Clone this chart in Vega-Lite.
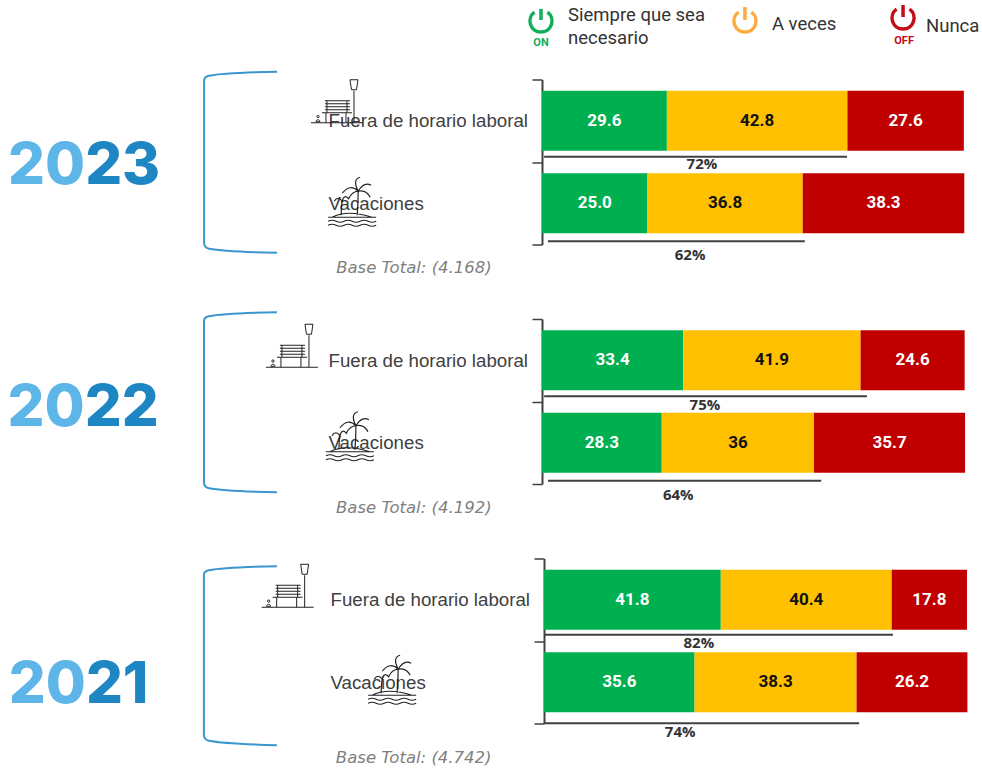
{"$schema":"https://vega.github.io/schema/vega-lite/v6.json","autosize":{"type":"none"},"padding":{"left":542,"right":0,"top":0,"bottom":769},"bounds":"flush","spacing":74.5,"config":{"view":{"stroke":null}},
"datasets":{
"years":[{"year":2023,"head":"20","tail":"23","base":"Base Total: (4.168)"},{"year":2022,"head":"20","tail":"22","base":"Base Total: (4.192)"},{"year":2021,"head":"20","tail":"21","base":"Base Total: (4.742)"}],
"bars":[
{"year":2023,"cat":"Fuera de horario laboral","series":"Siempre que sea necesario","order":1,"value":29.6,"label":"29.6"},
{"year":2023,"cat":"Fuera de horario laboral","series":"A veces","order":2,"value":42.8,"label":"42.8"},
{"year":2023,"cat":"Fuera de horario laboral","series":"Nunca","order":3,"value":27.6,"label":"27.6"},
{"year":2023,"cat":"Vacaciones","series":"Siempre que sea necesario","order":1,"value":25.0,"label":"25.0"},
{"year":2023,"cat":"Vacaciones","series":"A veces","order":2,"value":36.8,"label":"36.8"},
{"year":2023,"cat":"Vacaciones","series":"Nunca","order":3,"value":38.3,"label":"38.3"},
{"year":2022,"cat":"Fuera de horario laboral","series":"Siempre que sea necesario","order":1,"value":33.4,"label":"33.4"},
{"year":2022,"cat":"Fuera de horario laboral","series":"A veces","order":2,"value":41.9,"label":"41.9"},
{"year":2022,"cat":"Fuera de horario laboral","series":"Nunca","order":3,"value":24.6,"label":"24.6"},
{"year":2022,"cat":"Vacaciones","series":"Siempre que sea necesario","order":1,"value":28.3,"label":"28.3"},
{"year":2022,"cat":"Vacaciones","series":"A veces","order":2,"value":36,"label":"36"},
{"year":2022,"cat":"Vacaciones","series":"Nunca","order":3,"value":35.7,"label":"35.7"},
{"year":2021,"cat":"Fuera de horario laboral","series":"Siempre que sea necesario","order":1,"value":41.8,"label":"41.8"},
{"year":2021,"cat":"Fuera de horario laboral","series":"A veces","order":2,"value":40.4,"label":"40.4"},
{"year":2021,"cat":"Fuera de horario laboral","series":"Nunca","order":3,"value":17.8,"label":"17.8"},
{"year":2021,"cat":"Vacaciones","series":"Siempre que sea necesario","order":1,"value":35.6,"label":"35.6"},
{"year":2021,"cat":"Vacaciones","series":"A veces","order":2,"value":38.3,"label":"38.3"},
{"year":2021,"cat":"Vacaciones","series":"Nunca","order":3,"value":26.2,"label":"26.2"}],
"totals":[
{"year":2023,"cat":"Fuera de horario laboral","total":"72%","start":0.5,"end":72.3,"labelAt":37.9},
{"year":2023,"cat":"Vacaciones","total":"62%","start":1.4,"end":62.3,"labelAt":35.1},
{"year":2022,"cat":"Fuera de horario laboral","total":"75%","start":0.5,"end":76.8,"labelAt":38.5},
{"year":2022,"cat":"Vacaciones","total":"64%","start":1.4,"end":66,"labelAt":32.2},
{"year":2021,"cat":"Fuera de horario laboral","total":"82%","start":0,"end":82.5,"labelAt":36.6},
{"year":2021,"cat":"Vacaciones","total":"74%","start":0,"end":74.5,"labelAt":32.2}],
"legend":[{"series":"Siempre que sea necesario","text":"Siempre que sea\nnecesario"},{"series":"A veces","text":"A veces"},{"series":"Nunca","text":"Nunca"}]
},
"vconcat":[
{"width":440,"height":4.5,"data":{"name":"legend"},"layer":[
{"mark":{"type":"point","filled":false,"opacity":1,"size":4,"stroke":"#12AE5B","strokeWidth":3.5,"shape":"M-6.5 -8.8 A11 11 0 1 0 6.5 -8.8 M0 -12 V-1","yOffset":18.75},"transform":[{"filter":"datum.series==='Siempre que sea necesario'"}],"encoding":{"x":{"datum":-0.24,"type":"quantitative","scale":{"domain":[0,104.5],"nice":false,"zero":false},"axis":null}}},
{"mark":{"type":"point","filled":false,"opacity":1,"size":4,"stroke":"#FFAB40","strokeWidth":3.5,"shape":"M-6.5 -8.8 A11 11 0 1 0 6.5 -8.8 M0 -14 V-1","yOffset":18.75},"transform":[{"filter":"datum.series==='A veces'"}],"encoding":{"x":{"datum":48.2,"type":"quantitative","axis":null}}},
{"mark":{"type":"point","filled":false,"opacity":1,"size":4,"stroke":"#C00D18","strokeWidth":3.5,"shape":"M-6.5 -8.8 A11 11 0 1 0 6.5 -8.8 M0 -13 V-1","yOffset":15.75},"transform":[{"filter":"datum.series==='Nunca'"}],"encoding":{"x":{"datum":85.75,"type":"quantitative","axis":null}}},
{"mark":{"type":"text","text":"ON","font":"Roboto","fontWeight":700,"fontSize":11,"color":"#12AE5B","dy":40.75},"transform":[{"filter":"datum.series==='Siempre que sea necesario'"}],"encoding":{"x":{"datum":-0.24,"type":"quantitative","axis":null}}},
{"mark":{"type":"text","text":"OFF","font":"Roboto","fontWeight":700,"fontSize":11,"color":"#C00D18","dy":38.75},"transform":[{"filter":"datum.series==='Nunca'"}],"encoding":{"x":{"datum":86,"type":"quantitative","axis":null}}},
{"mark":{"type":"text","align":"left","baseline":"middle","font":"Roboto","fontSize":18.5,"color":"#333333","lineBreak":"\n","lineHeight":23,"dy":12.25},"transform":[{"filter":"datum.series==='Siempre que sea necesario'"}],"encoding":{"x":{"datum":6.18,"type":"quantitative","axis":null},"text":{"field":"text"}}},
{"mark":{"type":"text","align":"left","baseline":"middle","font":"Roboto","fontSize":18.5,"color":"#333333","dy":22},"transform":[{"filter":"datum.series==='A veces'"}],"encoding":{"x":{"datum":54.6,"type":"quantitative","axis":null},"text":{"field":"text"}}},
{"mark":{"type":"text","align":"left","baseline":"middle","font":"Roboto","fontSize":18.5,"color":"#333333","dy":23.5},"transform":[{"filter":"datum.series==='Nunca'"}],"encoding":{"x":{"datum":91.2,"type":"quantitative","axis":null},"text":{"field":"text"}}}
]},
{"width":440,"height":165,"data":{"name":"years"},"transform":[{"filter":"datum.year===2023"}],"layer":[
{"data":{"name":"bars"},"transform":[{"filter":"datum.year===2023"},{"stack":"value","groupby":["cat"],"sort":[{"field":"order","order":"ascending"}],"as":["x0","x1"]},{"calculate":"(datum.x0+datum.x1)/2","as":"mid"}],"layer":[
{"mark":{"type":"bar","height":60},"encoding":{"x":{"field":"x0","type":"quantitative","scale":{"domain":[0,104.3],"nice":false,"zero":false},"axis":null},"x2":{"field":"x1"},"y":{"field":"cat","type":"nominal","scale":{"type":"band","domain":["Fuera de horario laboral","Vacaciones"],"paddingInner":0,"paddingOuter":0},"axis":{"title":null,"tickBand":"extent","domainColor":"#404040","domainWidth":2,"tickColor":"#404040","tickWidth":1.5,"tickSize":10,"labelPadding":204,"labelAlign":"left","labelFont":"Liberation Sans","labelFontSize":18.7,"labelColor":"#404040","labelLimit":300}},"fill":{"field":"series","type":"nominal","scale":{"domain":["Siempre que sea necesario","A veces","Nunca"],"range":["#00B050","#FFC000","#C00000"]},"legend":null}}},
{"mark":{"type":"text","font":"Roboto","fontWeight":700,"fontSize":17},"encoding":{"x":{"field":"mid","type":"quantitative","axis":null},"y":{"field":"cat","type":"nominal"},"text":{"field":"label"},"color":{"condition":{"test":"datum.series==='A veces'","value":"#111111"},"value":"#ffffff"}}}
]},
{"data":{"name":"totals"},"transform":[{"filter":"datum.year===2023"}],"mark":{"type":"rule","color":"#404040","strokeWidth":2,"yOffset":{"expr":"datum.cat==='Vacaciones'?38:36"}},"encoding":{"x":{"field":"start","type":"quantitative","axis":null},"x2":{"field":"end"},"y":{"field":"cat","type":"nominal"}}},
{"data":{"name":"totals"},"transform":[{"filter":"datum.year===2023"}],"mark":{"type":"text","font":"Open Sans","fontWeight":700,"fontSize":15,"color":"#333333","dy":{"expr":"datum.cat==='Vacaciones'?52:43"}},"encoding":{"x":{"field":"labelAt","type":"quantitative","axis":null},"y":{"field":"cat","type":"nominal"},"text":{"field":"total"}}},
{"mark":{"type":"point","filled":false,"opacity":1,"size":4,"stroke":"#3A96CE","strokeWidth":2,"shape":"M73 -49 Q20 -48 5 -45 Q0 -44 0 -40 V122 Q0 127 5 128 Q20 131 73 132"},"encoding":{"x":{"datum":-80.1,"type":"quantitative","axis":null},"y":{"datum":"Fuera de horario laboral","type":"nominal"}}},
{"mark":{"type":"point","filled":false,"opacity":1,"size":4,"stroke":"#222222","strokeWidth":1,"shape":"M-26 0H26 M17 0V-32 M13 -43 h8 l-1.5 10 h-5 z M-15 -10H15 M-11 -10V0 M9 -10V0 M-12 -22H13 M-12 -19H13 M-12 -16H13 M-12 -13H13 M-10 -22V-10 M10 -22V-10 M-21 -1 a2 2 0 1 1 4 0 z M-19 -5 a1.2 1.2 0 1 1 0.01 0","yOffset":2},"encoding":{"x":{"datum":-48.6,"type":"quantitative","axis":null},"y":{"datum":"Fuera de horario laboral","type":"nominal"}}},
{"mark":{"type":"point","filled":false,"opacity":1,"size":4,"stroke":"#222222","strokeWidth":1.2,"shape":"M-24 0H24 M-24 4 q4 -2 8 0 t8 0 t8 0 t8 0 t8 0 t8 0 M-24 8 q4 -2 8 0 t8 0 t8 0 t8 0 t8 0 t8 0 M5 -2 Q6 -14 6 -26 M6 -26 Q-2 -34 -10 -24 M6 -26 Q0 -38 8 -40 M6 -26 Q12 -36 19 -32 M6 -26 Q14 -28 18 -20 M6 -26 Q0 -26 -4 -18 M-11 -2 Q-11 -10 -10 -16 M-10 -16 Q-14 -22 -18 -16 M-10 -16 Q-8 -24 -3 -18 M-20 0 Q-5 -8 20 0","yOffset":14},"encoding":{"x":{"datum":-45,"type":"quantitative","axis":null},"y":{"datum":"Vacaciones","type":"nominal"}}},
{"mark":{"type":"text","align":"right","baseline":"middle","font":"Inter","fontWeight":800,"fontSize":58,"color":"#5EB6E8","dy":46},"encoding":{"x":{"datum":-108.3,"type":"quantitative","axis":null},"y":{"datum":"Fuera de horario laboral","type":"nominal"},"text":{"field":"head"}}},
{"mark":{"type":"text","align":"left","baseline":"middle","font":"Inter","fontWeight":800,"fontSize":58,"color":"#1F86C4","dy":46},"encoding":{"x":{"datum":-108.3,"type":"quantitative","axis":null},"y":{"datum":"Fuera de horario laboral","type":"nominal"},"text":{"field":"tail"}}},
{"mark":{"type":"text","align":"left","baseline":"middle","font":"DejaVu Sans","fontStyle":"italic","fontSize":16.5,"color":"#7F7F7F","dy":65},"encoding":{"x":{"datum":-48.8,"type":"quantitative","axis":null},"y":{"datum":"Vacaciones","type":"nominal"},"text":{"field":"base"}}}
]},
{"width":440,"height":165,"data":{"name":"years"},"transform":[{"filter":"datum.year===2022"}],"layer":[
{"data":{"name":"bars"},"transform":[{"filter":"datum.year===2022"},{"stack":"value","groupby":["cat"],"sort":[{"field":"order","order":"ascending"}],"as":["x0","x1"]},{"calculate":"(datum.x0+datum.x1)/2","as":"mid"}],"layer":[
{"mark":{"type":"bar","height":60},"encoding":{"x":{"field":"x0","type":"quantitative","scale":{"domain":[0,104],"nice":false,"zero":false},"axis":null},"x2":{"field":"x1"},"y":{"field":"cat","type":"nominal","scale":{"type":"band","domain":["Fuera de horario laboral","Vacaciones"],"paddingInner":0,"paddingOuter":0},"axis":{"title":null,"tickBand":"extent","domainColor":"#404040","domainWidth":2,"tickColor":"#404040","tickWidth":1.5,"tickSize":10,"labelPadding":204,"labelAlign":"left","labelFont":"Liberation Sans","labelFontSize":18.7,"labelColor":"#404040","labelLimit":300}},"fill":{"field":"series","type":"nominal","scale":{"domain":["Siempre que sea necesario","A veces","Nunca"],"range":["#00B050","#FFC000","#C00000"]},"legend":null}}},
{"mark":{"type":"text","font":"Roboto","fontWeight":700,"fontSize":17},"encoding":{"x":{"field":"mid","type":"quantitative","axis":null},"y":{"field":"cat","type":"nominal"},"text":{"field":"label"},"color":{"condition":{"test":"datum.series==='A veces'","value":"#111111"},"value":"#ffffff"}}}
]},
{"data":{"name":"totals"},"transform":[{"filter":"datum.year===2022"}],"mark":{"type":"rule","color":"#404040","strokeWidth":2,"yOffset":{"expr":"datum.cat==='Vacaciones'?38:36"}},"encoding":{"x":{"field":"start","type":"quantitative","axis":null},"x2":{"field":"end"},"y":{"field":"cat","type":"nominal"}}},
{"data":{"name":"totals"},"transform":[{"filter":"datum.year===2022"}],"mark":{"type":"text","font":"Open Sans","fontWeight":700,"fontSize":15,"color":"#333333","dy":{"expr":"datum.cat==='Vacaciones'?52:45"}},"encoding":{"x":{"field":"labelAt","type":"quantitative","axis":null},"y":{"field":"cat","type":"nominal"},"text":{"field":"total"}}},
{"mark":{"type":"point","filled":false,"opacity":1,"size":4,"stroke":"#3A96CE","strokeWidth":2,"shape":"M73 -48 Q20 -47 5 -44 Q0 -43 0 -39 V122 Q0 127 5 128 Q20 131 73 132"},"encoding":{"x":{"datum":-79.9,"type":"quantitative","axis":null},"y":{"datum":"Fuera de horario laboral","type":"nominal"}}},
{"mark":{"type":"point","filled":false,"opacity":1,"size":4,"stroke":"#222222","strokeWidth":1,"shape":"M-26 0H26 M17 0V-32 M13 -43 h8 l-1.5 10 h-5 z M-15 -10H15 M-11 -10V0 M9 -10V0 M-12 -22H13 M-12 -19H13 M-12 -16H13 M-12 -13H13 M-10 -22V-10 M10 -22V-10 M-21 -1 a2 2 0 1 1 4 0 z M-19 -5 a1.2 1.2 0 1 1 0.01 0","yOffset":7},"encoding":{"x":{"datum":-59.1,"type":"quantitative","axis":null},"y":{"datum":"Fuera de horario laboral","type":"nominal"}}},
{"mark":{"type":"point","filled":false,"opacity":1,"size":4,"stroke":"#222222","strokeWidth":1.2,"shape":"M-24 0H24 M-24 4 q4 -2 8 0 t8 0 t8 0 t8 0 t8 0 t8 0 M-24 8 q4 -2 8 0 t8 0 t8 0 t8 0 t8 0 t8 0 M5 -2 Q6 -14 6 -26 M6 -26 Q-2 -34 -10 -24 M6 -26 Q0 -38 8 -40 M6 -26 Q12 -36 19 -32 M6 -26 Q14 -28 18 -20 M6 -26 Q0 -26 -4 -18 M-11 -2 Q-11 -10 -10 -16 M-10 -16 Q-14 -22 -18 -16 M-10 -16 Q-8 -24 -3 -18 M-20 0 Q-5 -8 20 0","yOffset":9},"encoding":{"x":{"datum":-45.4,"type":"quantitative","axis":null},"y":{"datum":"Vacaciones","type":"nominal"}}},
{"mark":{"type":"text","align":"right","baseline":"middle","font":"Inter","fontWeight":800,"fontSize":58,"color":"#5EB6E8","dy":49},"encoding":{"x":{"datum":-108.1,"type":"quantitative","axis":null},"y":{"datum":"Fuera de horario laboral","type":"nominal"},"text":{"field":"head"}}},
{"mark":{"type":"text","align":"left","baseline":"middle","font":"Inter","fontWeight":800,"fontSize":58,"color":"#1F86C4","dy":49},"encoding":{"x":{"datum":-108.1,"type":"quantitative","axis":null},"y":{"datum":"Fuera de horario laboral","type":"nominal"},"text":{"field":"tail"}}},
{"mark":{"type":"text","align":"left","baseline":"middle","font":"DejaVu Sans","fontStyle":"italic","fontSize":16.5,"color":"#7F7F7F","dy":65},"encoding":{"x":{"datum":-48.7,"type":"quantitative","axis":null},"y":{"datum":"Vacaciones","type":"nominal"},"text":{"field":"base"}}}
]},
{"width":440,"height":165,"data":{"name":"years"},"transform":[{"filter":"datum.year===2021"}],"layer":[
{"data":{"name":"bars"},"transform":[{"filter":"datum.year===2021"},{"stack":"value","groupby":["cat"],"sort":[{"field":"order","order":"ascending"}],"as":["x0","x1"]},{"calculate":"(datum.x0+datum.x1)/2","as":"mid"}],"layer":[
{"mark":{"type":"bar","height":60},"encoding":{"x":{"field":"x0","type":"quantitative","scale":{"domain":[-0.47,103.55],"nice":false,"zero":false},"axis":null},"x2":{"field":"x1"},"y":{"field":"cat","type":"nominal","scale":{"type":"band","domain":["Fuera de horario laboral","Vacaciones"],"paddingInner":0,"paddingOuter":0},"axis":{"title":null,"tickBand":"extent","offset":-2,"domainColor":"#404040","domainWidth":2,"tickColor":"#404040","tickWidth":1.5,"tickSize":10,"labelPadding":204,"labelAlign":"left","labelFont":"Liberation Sans","labelFontSize":18.7,"labelColor":"#404040","labelLimit":300}},"fill":{"field":"series","type":"nominal","scale":{"domain":["Siempre que sea necesario","A veces","Nunca"],"range":["#00B050","#FFC000","#C00000"]},"legend":null}}},
{"mark":{"type":"text","font":"Roboto","fontWeight":700,"fontSize":17},"encoding":{"x":{"field":"mid","type":"quantitative","axis":null},"y":{"field":"cat","type":"nominal"},"text":{"field":"label"},"color":{"condition":{"test":"datum.series==='A veces'","value":"#111111"},"value":"#ffffff"}}}
]},
{"data":{"name":"totals"},"transform":[{"filter":"datum.year===2021"}],"mark":{"type":"rule","color":"#404040","strokeWidth":2,"yOffset":{"expr":"datum.cat==='Vacaciones'?41:35"}},"encoding":{"x":{"field":"start","type":"quantitative","axis":null},"x2":{"field":"end"},"y":{"field":"cat","type":"nominal"}}},
{"data":{"name":"totals"},"transform":[{"filter":"datum.year===2021"}],"mark":{"type":"text","font":"Open Sans","fontWeight":700,"fontSize":15,"color":"#333333","dy":{"expr":"datum.cat==='Vacaciones'?50:43.5"}},"encoding":{"x":{"field":"labelAt","type":"quantitative","axis":null},"y":{"field":"cat","type":"nominal"},"text":{"field":"total"}}},
{"mark":{"type":"point","filled":false,"opacity":1,"size":4,"stroke":"#3A96CE","strokeWidth":2,"shape":"M73 -33.5 Q20 -32.5 5 -29.5 Q0 -28.5 0 -24.5 V135 Q0 140 5 141 Q20 144 73 145.5"},"encoding":{"x":{"datum":-80.4,"type":"quantitative","axis":null},"y":{"datum":"Fuera de horario laboral","type":"nominal"}}},
{"mark":{"type":"point","filled":false,"opacity":1,"size":4,"stroke":"#222222","strokeWidth":1,"shape":"M-26 0H26 M17 0V-32 M13 -43 h8 l-1.5 10 h-5 z M-15 -10H15 M-11 -10V0 M9 -10V0 M-12 -22H13 M-12 -19H13 M-12 -16H13 M-12 -13H13 M-10 -22V-10 M10 -22V-10 M-21 -1 a2 2 0 1 1 4 0 z M-19 -5 a1.2 1.2 0 1 1 0.01 0","yOffset":7.5},"encoding":{"x":{"datum":-60.6,"type":"quantitative","axis":null},"y":{"datum":"Fuera de horario laboral","type":"nominal"}}},
{"mark":{"type":"point","filled":false,"opacity":1,"size":4,"stroke":"#222222","strokeWidth":1.2,"shape":"M-24 0H24 M-24 4 q4 -2 8 0 t8 0 t8 0 t8 0 t8 0 t8 0 M-24 8 q4 -2 8 0 t8 0 t8 0 t8 0 t8 0 t8 0 M5 -2 Q6 -14 6 -26 M6 -26 Q-2 -34 -10 -24 M6 -26 Q0 -38 8 -40 M6 -26 Q12 -36 19 -32 M6 -26 Q14 -28 18 -20 M6 -26 Q0 -26 -4 -18 M-11 -2 Q-11 -10 -10 -16 M-10 -16 Q-14 -22 -18 -16 M-10 -16 Q-8 -24 -3 -18 M-20 0 Q-5 -8 20 0","yOffset":13},"encoding":{"x":{"datum":-35.9,"type":"quantitative","axis":null},"y":{"datum":"Vacaciones","type":"nominal"}}},
{"mark":{"type":"text","align":"right","baseline":"middle","font":"Inter","fontWeight":800,"fontSize":58,"color":"#5EB6E8","dy":4},"encoding":{"x":{"datum":-108.3,"type":"quantitative","axis":null},"y":{"datum":"Vacaciones","type":"nominal"},"text":{"field":"head"}}},
{"mark":{"type":"text","align":"left","baseline":"middle","font":"Inter","fontWeight":800,"fontSize":58,"color":"#1F86C4","dy":4},"encoding":{"x":{"datum":-108.3,"type":"quantitative","axis":null},"y":{"datum":"Vacaciones","type":"nominal"},"text":{"field":"tail"}}},
{"mark":{"type":"text","align":"left","baseline":"middle","font":"DejaVu Sans","fontStyle":"italic","fontSize":16.5,"color":"#7F7F7F","dy":75.5},"encoding":{"x":{"datum":-49.2,"type":"quantitative","axis":null},"y":{"datum":"Vacaciones","type":"nominal"},"text":{"field":"base"}}}
]}
]}
